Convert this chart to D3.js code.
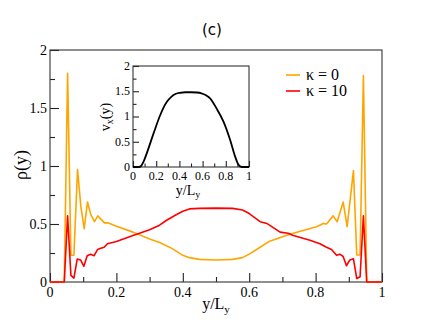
<!DOCTYPE html>
<html>
<head>
<meta charset="utf-8">
<script src="https://cdn.jsdelivr.net/npm/d3@7"></script>
<style>
  body { margin: 0; background: #fff; }
</style>
</head>
<body>
<script>
// density profiles rho(y)
var xK0 = [0, 0.043, 0.053, 0.063, 0.072, 0.083, 0.093, 0.103, 0.113, 0.123, 0.134, 0.144, 0.154, 0.164, 0.174, 0.2, 0.25, 0.3, 0.33, 0.367, 0.4, 0.42, 0.45, 0.5, 0.55, 0.58, 0.6, 0.633, 0.66, 0.7, 0.733, 0.77, 0.803, 0.823, 0.833, 0.853, 0.865, 0.883, 0.895, 0.914, 0.924, 0.934, 0.944, 0.954, 1];
var rhoK0 = [0, 0, 1.80, 0.23, 0.23, 0.97, 0.65, 0.46, 0.69, 0.58, 0.52, 0.57, 0.54, 0.51, 0.51, 0.48, 0.43, 0.37, 0.34, 0.29, 0.23, 0.21, 0.195, 0.19, 0.195, 0.21, 0.24, 0.30, 0.35, 0.39, 0.42, 0.45, 0.477, 0.505, 0.50, 0.57, 0.52, 0.69, 0.477, 0.96, 0.233, 0.233, 1.78, 0, 0];

var xK10 = [0, 0.043, 0.053, 0.063, 0.072, 0.082, 0.092, 0.102, 0.112, 0.122, 0.133, 0.143, 0.153, 0.163, 0.173, 0.2, 0.25, 0.3, 0.33, 0.35, 0.38, 0.4, 0.42, 0.45, 0.5, 0.55, 0.58, 0.6, 0.633, 0.653, 0.693, 0.717, 0.733, 0.783, 0.813, 0.833, 0.848, 0.863, 0.873, 0.883, 0.893, 0.903, 0.914, 0.924, 0.934, 0.944, 0.954, 1];
var rhoK10 = [0, 0, 0.57, 0.057, 0.034, 0.198, 0.19, 0.135, 0.227, 0.24, 0.227, 0.28, 0.29, 0.30, 0.33, 0.35, 0.40, 0.45, 0.49, 0.53, 0.58, 0.61, 0.63, 0.635, 0.637, 0.635, 0.62, 0.59, 0.52, 0.505, 0.43, 0.42, 0.40, 0.36, 0.33, 0.30, 0.28, 0.23, 0.24, 0.22, 0.14, 0.19, 0.20, 0.03, 0.045, 0.57, 0, 0];

// inset: velocity profile vx(y)
var xVel = [0, 0.05, 0.07, 0.092, 0.12, 0.178, 0.235, 0.292, 0.33, 0.37, 0.41, 0.45, 0.5, 0.55, 0.59, 0.63, 0.665, 0.72, 0.78, 0.837, 0.88, 0.908, 0.937, 1];
var vel = [0, 0, 0.02, 0.11, 0.28, 0.67, 1.03, 1.29, 1.39, 1.45, 1.47, 1.48, 1.48, 1.475, 1.46, 1.42, 1.36, 1.16, 0.90, 0.54, 0.21, 0.05, 0, 0];

var xTicks = [0, 0.2, 0.4, 0.6, 0.8, 1];
var yTicks = [0, 0.5, 1, 1.5, 2];
var seriesNames = ["κ = 0", "κ = 10"];
var seriesColors = ["#ffa500", "#ff0000"];

var serif = "'Liberation Serif'";

var svg = d3.select("body").append("svg")
  .attr("width", 443)
  .attr("height", 332);

svg.append("rect").attr("width", 443).attr("height", 332).attr("fill", "#fff");

// main frame
var main = { left: 50, right: 382, top: 50, bottom: 282 };
var x = d3.scaleLinear().domain([0, 1]).range([main.left, main.right]);
var y = d3.scaleLinear().domain([0, 2]).range([main.bottom, main.top]);

// draws a box with inward ticks on bottom and left
function drawFrame(g, xs, ys, major, minor, xMinor, yMinor, fontSize, xFmt, yFmt) {
  var x0 = xs.range()[0], x1 = xs.range()[1];
  var y0 = ys.range()[0], y1 = ys.range()[1];

  g.append("g")
    .attr("transform", `translate(0,${y0})`)
    .call(d3.axisTop(xs).tickValues(xMinor).tickSize(minor).tickFormat(""))
    .call(a => a.select(".domain").remove());
  g.append("g")
    .attr("transform", `translate(0,${y0})`)
    .call(d3.axisTop(xs).tickValues(xTicks).tickSize(major).tickFormat(""))
    .call(a => a.select(".domain").remove());
  g.append("g")
    .attr("transform", `translate(${x0},0)`)
    .call(d3.axisRight(ys).tickValues(yMinor).tickSize(minor).tickFormat(""))
    .call(a => a.select(".domain").remove());
  g.append("g")
    .attr("transform", `translate(${x0},0)`)
    .call(d3.axisRight(ys).tickValues(yTicks).tickSize(major).tickFormat(""))
    .call(a => a.select(".domain").remove());
  g.selectAll(".tick line").attr("stroke", "#222").attr("stroke-width", 1.1);

  g.append("rect")
    .attr("x", x0).attr("y", y1)
    .attr("width", x1 - x0).attr("height", y0 - y1)
    .attr("fill", "none").attr("stroke", "#333").attr("stroke-width", 1.1);

  g.selectAll(".xl").data(xTicks).enter().append("text")
    .attr("x", d => xs(d))
    .attr("y", y0 + fontSize + 1)
    .attr("text-anchor", "middle")
    .attr("font-family", serif)
    .attr("font-size", fontSize)
    .text(xFmt);
  g.selectAll(".yl").data(yTicks).enter().append("text")
    .attr("x", x0 - 3)
    .attr("y", d => ys(d) + fontSize * 0.33)
    .attr("text-anchor", "end")
    .attr("font-family", serif)
    .attr("font-size", fontSize)
    .text(yFmt);
}

var fmt = d => String(d);

var mainG = svg.append("g");
drawFrame(mainG, x, y, 9, 5,
  [0.1, 0.3, 0.5, 0.7, 0.9], [0.25, 0.75, 1.25, 1.75], 14, fmt, fmt);

// data lines
var line = d3.line().x(d => x(d[0])).y(d => y(d[1]));
svg.append("path")
  .datum(xK0.map((v, i) => [v, rhoK0[i]]))
  .attr("d", line)
  .attr("fill", "none").attr("stroke", seriesColors[0]).attr("stroke-width", 1.6)
  .attr("stroke-linejoin", "round");
svg.append("path")
  .datum(xK10.map((v, i) => [v, rhoK10[i]]))
  .attr("d", line)
  .attr("fill", "none").attr("stroke", seriesColors[1]).attr("stroke-width", 1.6)
  .attr("stroke-linejoin", "round");

// axis labels
svg.append("text")
  .attr("transform", "translate(27,165) rotate(-90)")
  .attr("text-anchor", "middle")
  .attr("font-family", serif)
  .attr("font-size", 18)
  .text("ρ(y)");

var xlab = svg.append("text")
  .attr("x", 216).attr("y", 309)
  .attr("text-anchor", "middle")
  .attr("font-family", serif)
  .attr("font-size", 16);
xlab.append("tspan").text("y/L");
xlab.append("tspan").attr("dy", 4).attr("font-size", 11).text("y");

// title
svg.append("text")
  .attr("x", 212).attr("y", 35)
  .attr("text-anchor", "middle")
  .attr("font-family", "'DejaVu Sans'")
  .attr("font-size", 15)
  .text("(c)");

// legend
var legend = svg.selectAll(".leg").data(seriesNames).enter().append("g")
  .attr("transform", (d, i) => `translate(286,${75 + i * 16})`);
legend.append("line")
  .attr("x1", 0).attr("x2", 14)
  .attr("stroke", (d, i) => seriesColors[i]).attr("stroke-width", 1.6);
legend.append("text")
  .attr("x", 20).attr("y", 5)
  .attr("font-family", serif)
  .attr("font-size", 16)
  .text(d => d);

// inset
var xi = d3.scaleLinear().domain([0, 1]).range([133, 249]);
var yi = d3.scaleLinear().domain([0, 2]).range([167, 66]);
var insetG = svg.append("g");
drawFrame(insetG, xi, yi, 6, 3.5,
  [0.1, 0.3, 0.5, 0.7, 0.9], [0.25, 0.75, 1.25, 1.75], 12, fmt, fmt);

svg.append("path")
  .datum(xVel.map((v, i) => [v, vel[i]]))
  .attr("d", d3.line().x(d => xi(d[0])).y(d => yi(d[1])).curve(d3.curveMonotoneX))
  .attr("fill", "none").attr("stroke", "#000").attr("stroke-width", 1.8);

var vlab = svg.append("text")
  .attr("transform", "translate(110,117) rotate(-90)")
  .attr("text-anchor", "middle")
  .attr("font-family", serif)
  .attr("font-size", 14);
vlab.append("tspan").text("v");
vlab.append("tspan").attr("dy", 3).attr("font-size", 10).text("x");
vlab.append("tspan").attr("dy", -3).text("(y)");

var ilab = svg.append("text")
  .attr("x", 188).attr("y", 195)
  .attr("text-anchor", "middle")
  .attr("font-family", serif)
  .attr("font-size", 14);
ilab.append("tspan").text("y/L");
ilab.append("tspan").attr("dy", 3).attr("font-size", 10).text("y");
</script>
</body>
</html>
